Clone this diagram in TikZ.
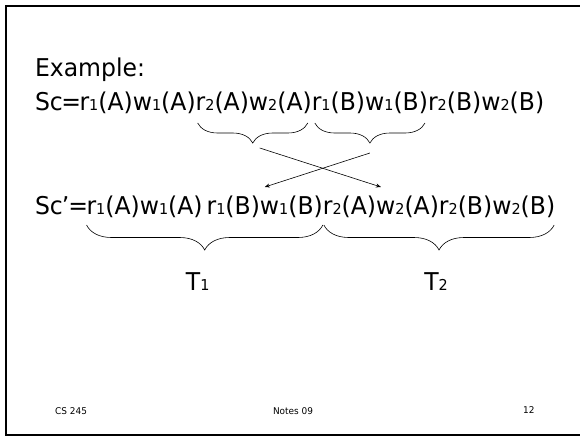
\documentclass[tikz,border=0pt]{standalone}
\usepackage{fontspec}
\setmainfont[FakeStretch=0.96]{DejaVu Sans}
\usetikzlibrary{calc,decorations.pathreplacing,arrows.meta}
\newcommand\sbx[1]{\raisebox{-0.5pt}{\fontsize{15}{15}\selectfont #1}}
\tikzset{
  seg/.style={anchor=base west, inner sep=0pt, outer sep=0pt, font=\fontsize{24.5}{28}\selectfont},
  foot/.style={anchor=base west, inner sep=0pt, font=\fontsize{9.3}{11}\selectfont},
  bracetop/.style={decorate, decoration={brace, mirror, amplitude=20pt}, line width=0.6pt},
  bracebot/.style={decorate, decoration={brace, mirror, amplitude=25pt}, line width=0.6pt},
  swap/.style={-{Stealth[length=5pt,width=4pt]}, line width=0.6pt}
}
\begin{document}
\begin{tikzpicture}[x=1pt,y=-1pt]
\useasboundingbox (0,0) rectangle (580,437);
% slide frame (right edge runs off the page)
\draw[line width=2pt] (584,6) -- (6,6) -- (6,435) -- (584,435);

\node[seg] (ex) at (35,76) {Example:};

% original schedule
\node[seg] (s0) at (35,110) {Sc\kern-1.5pt=\kern-1.5pt r\sbx{1}(A)w\sbx{1}(A)};
\node[seg] (s1) at (s0.base east) {r\sbx{2}(A)w\sbx{2}(A)};
\node[seg] (s2) at (s1.base east) {r\sbx{1}(B)w\sbx{1}(B)};
\node[seg] (s3) at (s2.base east) {r\sbx{2}(B)w\sbx{2}(B)};

% swapped schedule
\node[seg] (q0) at (35,214) {Sc\kern-1pt’\kern-1pt=\kern-1.5pt};
\node[seg] (q1) at (q0.base east) {r\sbx{1}(A)w\sbx{1}(A)\kern4pt};
\node[seg] (q2) at (q1.base east) {r\sbx{1}(B)w\sbx{1}(B)};
\node[seg] (q3) at (q2.base east) {r\sbx{2}(A)w\sbx{2}(A)};
\node[seg] (q4) at (q3.base east) {r\sbx{2}(B)w\sbx{2}(B)};

% braces under the swapped pair
\draw[bracetop] ($(s1.base west)+(2,13)$) -- ($(s1.base east)+(-4,13)$);
\draw[bracetop] ($(s2.base west)+(3,13)$) -- ($(s2.base east)+(-3,13)$);

% crossing arrows
\draw[swap] ($(s1.base)+(6,38)$) -- ($(q3.base)+(0,-27)$);
\draw[swap] ($(s2.base)+(0,43)$) -- ($(q2.base)+(0,-27)$);

% transaction braces
\draw[bracebot] ($(q1.base west)+(0,11)$) -- ($(q2.base east)+(0,11)$);
\draw[bracebot] ($(q3.base west)+(1,11)$) -- ($(q4.base east)+(-1,11)$);

\node[seg, anchor=base] (t1) at ($(q1.base west)!0.5!(q2.base east)+(-7,76)$) {T\sbx{1}};
\node[seg, anchor=base] (t2) at ($(q3.base west)!0.5!(q4.base east)+(-3,76)$) {T\sbx{2}};

% footer
\node[foot] (f1) at (55,414) {CS 245};
\node[foot, anchor=base] (f2) at (293,414) {Notes 09};
\node[foot] (f3) at (523,413) {12};
\end{tikzpicture}
\end{document}
